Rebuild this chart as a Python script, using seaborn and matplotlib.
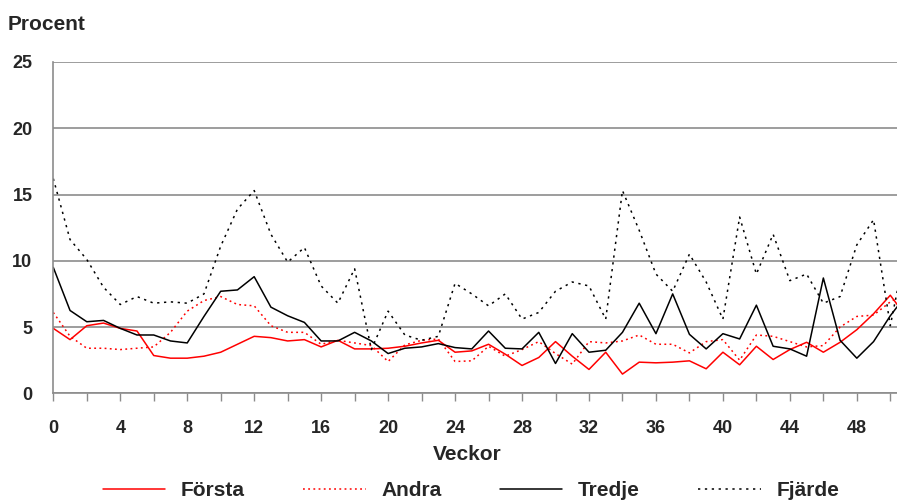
import numpy as np
import pandas as pd
import seaborn as sns
import matplotlib.pyplot as plt

# Veckor 0..51 (sista punkten ligger precis utanför bildkanten)
veckor = list(range(52))

forsta = [4.9, 4.05, 5.1, 5.3, 4.9, 4.7, 2.85, 2.65, 2.65, 2.8, 3.1, 3.7, 4.3,
          4.2, 3.95, 4.05, 3.5, 4.0, 3.35, 3.35, 3.4, 3.55, 3.8, 4.0, 3.1,
          3.2, 3.7, 2.95, 2.1, 2.7, 3.9, 2.8, 1.8, 3.1, 1.45, 2.35, 2.3,
          2.35, 2.45, 1.85, 3.1, 2.15, 3.55, 2.55, 3.3, 3.85, 3.1, 3.85, 4.8,
          6.0, 7.4, 5.7]

andra = [6.1, 4.3, 3.4, 3.4, 3.3, 3.4, 3.5, 4.6, 6.2, 7.0, 7.3, 6.7, 6.6,
         5.1, 4.6, 4.6, 3.7, 4.0, 3.8, 3.6, 2.4, 3.65, 4.0, 4.1, 2.4,
         2.45, 3.55, 2.8, 3.3, 3.9, 3.0, 2.2, 3.9, 3.8, 3.95, 4.4, 3.7,
         3.7, 3.05, 3.9, 4.05, 2.5, 4.4, 4.3, 3.9, 3.5, 3.6, 5.0, 5.8,
         5.9, 6.9, 7.6]

tredje = [9.5, 6.25, 5.4, 5.5, 4.9, 4.4, 4.4, 3.95, 3.8, 5.8, 7.7, 7.8, 8.8,
          6.5, 5.85, 5.35, 3.95, 3.95, 4.6, 3.95, 3.0, 3.4, 3.5, 3.75, 3.45,
          3.35, 4.7, 3.4, 3.35, 4.6, 2.25, 4.5, 3.1, 3.25, 4.6, 6.8, 4.5,
          7.5, 4.45, 3.35, 4.5, 4.1, 6.65, 3.55, 3.35, 2.8, 8.7, 4.0, 2.65,
          3.9, 5.85, 7.5]

fjarde = [16.2, 11.6, 10.1, 8.0, 6.7, 7.3, 6.8, 6.9, 6.8, 7.5, 11.1, 13.9, 15.3,
          12.0, 9.9, 11.0, 8.1, 6.8, 9.4, 3.3, 6.2, 4.4, 4.0, 4.3, 8.3,
          7.5, 6.6, 7.5, 5.6, 6.1, 7.7, 8.4, 8.1, 5.6, 15.3, 12.3, 9.0,
          7.7, 10.5, 8.4, 5.6, 13.3, 9.0, 12.0, 8.5, 9.0, 6.8, 7.3, 11.2,
          13.1, 5.1, 11.4]

serier = ["Första", "Andra", "Tredje", "Fjärde"]
farger = ["#ff0000", "#ff0000", "#000000", "#000000"]
stilar = ["-", (0, (1.2, 2.2)), "-", (0, (1.5, 3.0))]

df = pd.DataFrame({"Vecka": veckor, "Första": forsta, "Andra": andra,
                   "Tredje": tredje, "Fjärde": fjarde})

sns.set_style("white")
plt.rcParams["font.family"] = ["Liberation Sans", "DejaVu Sans"]

fig = plt.figure(figsize=(8.97, 5.0), dpi=100)
ax = fig.add_axes([53.3 / 897, 1 - 393.3 / 500, 1 - 53.3 / 897, (393.3 - 62) / 500])

for namn, farg, stil in zip(serier, farger, stilar):
    sns.lineplot(data=df, x="Vecka", y=namn, ax=ax, color=farg, linestyle=stil,
                 linewidth=1.1, label=namn, legend=False)

ax.set_xlim(0, 50.4)
ax.set_ylim(0, 25)
ax.set_yticks(range(0, 26, 5))
ax.set_xticks(range(0, 51, 2), minor=True)
ax.set_xticks(range(0, 49, 4))
ax.yaxis.grid(True, color="#8c8c8c", linewidth=1.2)
ax.xaxis.grid(False)
ax.set_axisbelow(True)
for s in ["top", "right"]:
    ax.spines[s].set_visible(False)
for s in ["left", "bottom"]:
    ax.spines[s].set_color("#8c8c8c")
    ax.spines[s].set_linewidth(1.2)

ax.tick_params(axis="y", length=6, width=1.2, color="#8c8c8c", pad=9,
               labelsize=13)
ax.tick_params(axis="x", which="both", length=6, width=1.0, color="#8c8c8c",
               pad=13, labelsize=13, direction="out", bottom=True)
for lab in ax.get_xticklabels() + ax.get_yticklabels():
    lab.set_fontweight("bold")
ax.set_xlabel("")
ax.set_ylabel("")

fig.text(8 / 897, 1 - 30 / 500, "Procent", fontsize=15, fontweight="bold",
         va="baseline", ha="left")
fig.text(467 / 897, 1 - 455 / 500, "Veckor", fontsize=15, fontweight="bold",
         va="center", ha="center")

handles, labels = ax.get_legend_handles_labels()
fig.legend(handles, labels, loc="center", bbox_to_anchor=(471 / 897, 1 - 491 / 500),
           ncol=4, frameon=False, handlelength=3.0, handletextpad=0.75,
           columnspacing=2.8, borderpad=0, prop={"weight": "bold", "size": 15})

fig.savefig("out.png", dpi=100)
